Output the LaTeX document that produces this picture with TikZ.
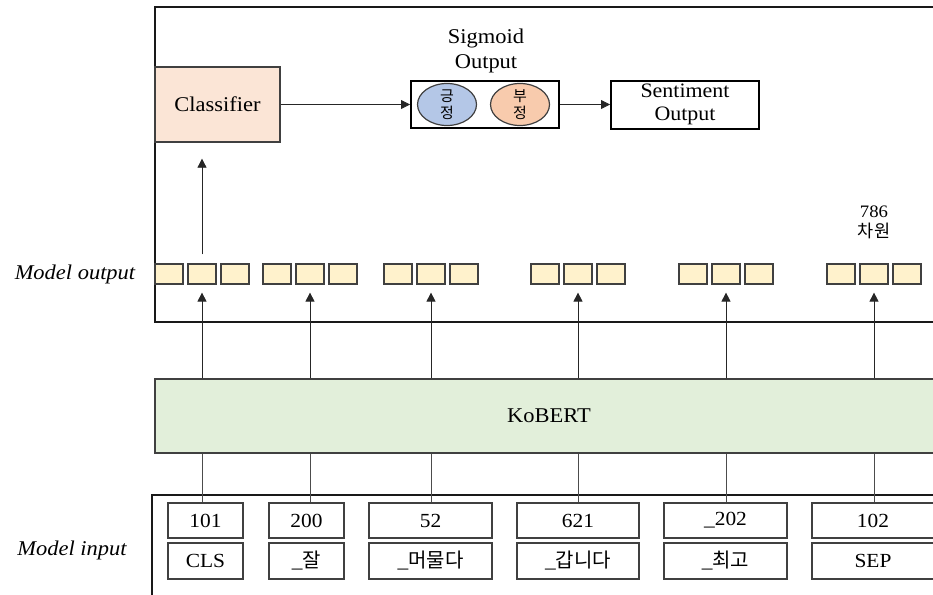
\documentclass[tikz,border=0pt]{standalone}
\usepackage{fontspec}
\setmainfont[FakeStretch=1.07]{Liberation Serif}
\newfontfamily\kr{Noto Sans CJK KR}
\usetikzlibrary{arrows.meta,shapes.geometric}
\definecolor{peach}{HTML}{FBE5D6}
\definecolor{posblue}{HTML}{B4C7E7}
\definecolor{negorange}{HTML}{F8CBAD}
\definecolor{vecfill}{HTML}{FFF2CC}
\definecolor{bertgreen}{HTML}{E2EFDA}
\definecolor{edge}{HTML}{404040}
\begin{document}
\begin{tikzpicture}[x=1pt,y=-1pt,
  frame/.style={draw=black!90, line width=2pt},
  plainbox/.style={draw=edge, line width=1.3pt, inner sep=0pt, align=center},
  boldbox/.style={draw=black, line width=2pt, inner sep=0pt, align=center},
  vecbox/.style={draw=edge, fill=vecfill, line width=1.2pt, minimum width=28pt, minimum height=20pt, inner sep=0pt},
  inbox/.style={draw=edge, line width=1.3pt, minimum height=35pt, inner sep=0pt, font=\fontsize{20}{22}\selectfont},
  oval/.style={ellipse, draw=edge, line width=1.2pt, minimum width=59pt, minimum height=42pt, inner sep=0pt, align=center, font=\kr\fontsize{15}{16.5}\selectfont},
  arr/.style={-{Triangle[length=9pt,width=9pt]}, line width=0.8pt, draw=black!85},
  link/.style={line width=0.8pt, draw=black!70},
  lbl/.style={font=\fontsize{21}{25}\selectfont, align=center},
]
\clip (0,0) rectangle (933,594);

% outer frames of the output stage and the input stage
\draw[frame] (950,7) -- (155,7) -- (155,322) -- (950,322);
\draw[frame] (950,495) -- (152,495) -- (152,600);

% classification head
\node[plainbox, fill=peach, minimum width=125pt, minimum height=75pt, font=\fontsize{21}{24}\selectfont] (clf) at (217.5,104.5) {Classifier};
\node[boldbox, minimum width=148pt, minimum height=47pt] (sig) at (485,104.5) {};
\node[oval, fill=posblue] (pos) at (447,104.5) {긍\\정};
\node[oval, fill=negorange] (neg) at (520,104.5) {부\\정};
\node[lbl] (siglbl) at (486,51) {Sigmoid\\Output};
\node[boldbox, minimum width=148pt, minimum height=48pt, font=\fontsize{20.5}{23.5}\selectfont] (sent) at (685,104.5) {Sentiment\\Output};
\draw[arr] (clf.east) -- (sig.west);
\draw[arr] (sig.east) -- (sent.west);

% per-token output vectors
\foreach \i/\c in {1/202,2/310,3/431,4/578,5/726,6/874}{
  \node[vecbox] (o\i1) at (\c-33,274) {};
  \node[vecbox] (o\i2) at (\c,274) {};
  \node[vecbox] (o\i3) at (\c+33,274) {};
}
\node[font=\fontsize{17.5}{20}\selectfont, align=center] (dim) at (874,222) {786\\{\kr\fontsize{17.5}{20}\selectfont 차원}};
\node[font=\itshape\fontsize{21}{22}\selectfont] (outlbl) at (75,274) {Model output};
\draw[arr, shorten <=9pt, shorten >=16pt] (o12.north) -- (o12.north |- clf.south);

% encoder
\node[draw=edge, fill=bertgreen, line width=1.2pt, minimum width=795pt, minimum height=74pt, inner sep=0pt] (kb) at (552.5,416) {};
\node[font=\fontsize{21}{24}\selectfont] (kbtxt) at (549,416) {KoBERT};
\foreach \i in {1,...,6}{
  \draw[arr, shorten >=8pt] (kb.north -| o\i2) -- (o\i2.south);
}

% token ids and tokens
\node[inbox, minimum width=75pt] (id1) at (205.5,520.5) {101};
\node[inbox, minimum width=75pt] (id2) at (306.5,520.5) {200};
\node[inbox, minimum width=123pt] (id3) at (430.5,520.5) {52};
\node[inbox, minimum width=122pt] (id4) at (578,520.5) {621};
\node[inbox, minimum width=123pt] (id5) at (725.5,520.5) {\_202};
\node[inbox, minimum width=122pt] (id6) at (873,520.5) {102};
\node[inbox, minimum width=75pt, minimum height=36pt] (tk1) at (205.5,561) {CLS};
\node[inbox, minimum width=75pt, minimum height=36pt] (tk2) at (306.5,561) {\_{\kr 잘}};
\node[inbox, minimum width=123pt, minimum height=36pt] (tk3) at (430.5,561) {\_{\kr 머물다}};
\node[inbox, minimum width=122pt, minimum height=36pt] (tk4) at (578,561) {\_{\kr 갑니다}};
\node[inbox, minimum width=123pt, minimum height=36pt] (tk5) at (725.5,561) {\_{\kr 최고}};
\node[inbox, minimum width=122pt, minimum height=36pt] (tk6) at (873,561) {SEP};
\node[font=\itshape\fontsize{21}{22}\selectfont] (inlbl) at (72,550) {Model input};
\foreach \i in {1,...,6}{
  \draw[link] (kb.south -| o\i2) -- (o\i2 |- id\i.north);
}
\end{tikzpicture}
\end{document}
